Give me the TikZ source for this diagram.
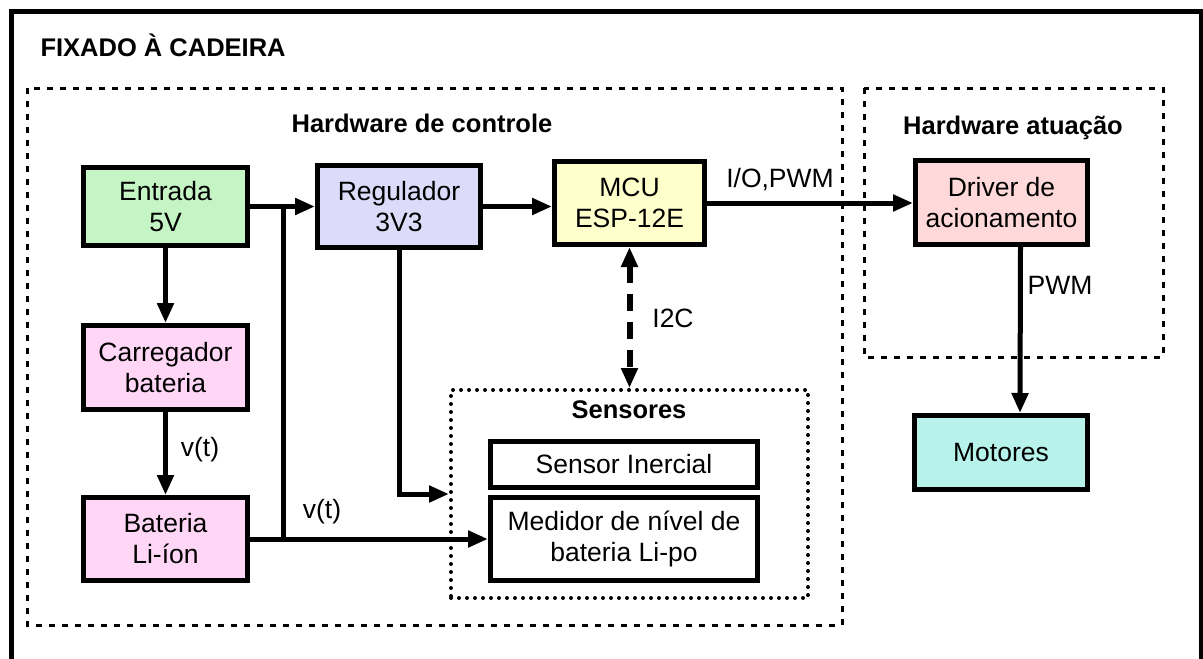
\documentclass[tikz,border=0pt]{standalone}
\usepackage{fontspec}
\setmainfont{Liberation Sans}
\usepackage{xcolor}
\usetikzlibrary{arrows.meta}

\definecolor{verde}{HTML}{C5F5C5}
\definecolor{lilas}{HTML}{DCDCFA}
\definecolor{amarelo}{HTML}{FFFFCC}
\definecolor{rosa}{HTML}{FFD6F5}
\definecolor{salmao}{HTML}{FFD9D9}
\definecolor{turquesa}{HTML}{B7F3EB}

\tikzset{
	bloco/.style={draw, line width=5pt, inner sep=0pt, align=center, font=\fontsize{26.5}{31}\selectfont},
	seta/.style={line width=5pt, -{Triangle[length=20pt,width=16pt]}},
	rotulo/.style={font=\fontsize{26.5}{31}\selectfont},
	titulo/.style={font=\bfseries\fontsize{25.5}{30}\selectfont},
	tracejado/.style={line width=3pt, dash pattern=on 6pt off 7pt},
	pontilhado/.style={line width=4pt, line cap=round, dash pattern=on 0pt off 8pt}
}

\begin{document}
\begin{tikzpicture}[x=1pt,y=-1pt]

	\clip (0,0) rectangle (1203,659);
	\draw[line width=5pt] (11,11) rectangle (1201,720);
	\node[titulo, anchor=west] (fixado) at (37,45) {FIXADO À CADEIRA};

	\draw[tracejado] (27,88) rectangle (842,625);
	\draw[tracejado] (864,88) rectangle (1163,357);
	\node[titulo] (hwctrl) at (422,123) {Hardware de controle};
	\node[titulo] (hwatu) at (1013,128) {Hardware atuação};

	\node[draw, pontilhado, minimum width=357pt, minimum height=208pt] (sensores) at (629.5,494) {};
	\node[titulo] (sens) at (629,410) {Sensores};

	\node[bloco, fill=verde, minimum width=164pt, minimum height=78pt] (entrada) at (165.5,206.5) {Entrada\\5V};
	\node[bloco, fill=rosa, minimum width=164pt, minimum height=84pt] (carregador) at (165.5,367.5) {Carregador\\bateria};
	\node[bloco, fill=rosa, minimum width=164pt, minimum height=83pt] (bateria) at (165.5,539) {Bateria\\Li-íon};
	\node[bloco, fill=lilas, minimum width=163pt, minimum height=82pt] (regulador) at (399,206.5) {Regulador\\3V3};
	\node[bloco, fill=amarelo, minimum width=150pt, minimum height=83pt] (mcu) at (629.5,203) {MCU\\ESP-12E};
	\node[bloco, fill=salmao, minimum width=172pt, minimum height=84pt] (driver) at (1001.5,202.5) {Driver de\\acionamento};
	\node[bloco, fill=turquesa, minimum width=173pt, minimum height=74pt] (motores) at (1001,452.5) {Motores};
	\node[bloco, minimum width=267pt, minimum height=46pt] (inercial) at (624,464.5) {Sensor Inercial};
	\node[bloco, minimum width=267pt, minimum height=83pt] (medidor) at (624,539) {Medidor de nível de\\bateria Li-po};

	\coordinate (jsup) at (283,206.5);
	\coordinate (jinf) at (283,539);

	\draw[seta] (entrada.east) -- (regulador.west);
	\draw[line width=5pt] (jsup) -- (jinf);
	\draw[seta] (regulador.east) -- (regulador.east -| mcu.west);
	\draw[seta] (mcu.east) -- (mcu.east -| driver.west);
	\draw[seta] ([xshift=19pt]driver.south) -- ([xshift=19pt]motores.north);
	\draw[seta] (entrada.south) -- (carregador.north);
	\draw[seta] (carregador.south) -- (bateria.north);
	\draw[seta] (bateria.east) -- (medidor.west);
	\draw[seta] (regulador.south) |- (sensores.west);
	\draw[seta, {Triangle[length=20pt,width=16pt]}-{Triangle[length=20pt,width=16pt]}, line width=6pt, dash pattern=on 17pt off 11pt] (mcu.south) -- (sensores.north);

	\node[rotulo] (io) at (780,180) {I/O,PWM};
	\node[rotulo] (pwm) at (1060,285) {PWM};
	\node[rotulo] (i2c) at (673,318) {I2C};
	\node[rotulo] (vt1) at (200,450) {v(t)};
	\node[rotulo] (vt2) at (322,512) {v(t)};

\end{tikzpicture}
\end{document}
